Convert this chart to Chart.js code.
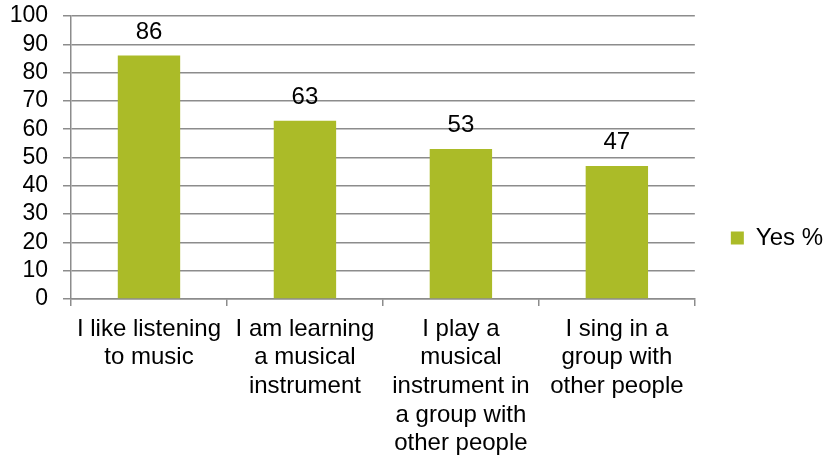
<!DOCTYPE html>
<html>
<head>
<meta charset="utf-8">
<script src="https://cdn.jsdelivr.net/npm/chart.js@4/dist/chart.umd.min.js"></script>
<style>
  html, body { margin: 0; padding: 0; background: #fff; }
  #wrap { width: 827px; height: 460px; }
</style>
</head>
<body>
<div id="wrap"><canvas id="chart" width="827" height="460"></canvas></div>
<script>
const categories = [
    ["I like listening", "to music"],
    ["I am learning", "a musical", "instrument"],
    ["I play a", "musical", "instrument in", "a group with", "other people"],
    ["I sing in a", "group with", "other people"],
];
const seriesName = "Yes %";
const yesValues = [86, 63, 53, 47];
const yTicks = [0, 10, 20, 30, 40, 50, 60, 70, 80, 90, 100];

const barColor = "#abbb28";
const gridColor = "#8c8c8c";
const fontFamily = "'Liberation Sans', Arial, sans-serif";

// value labels above each bar
const valueLabels = {
    id: "valueLabels",
    afterDatasetsDraw(chart) {
        const ctx = chart.ctx;
        ctx.save();
        ctx.font = `24px ${fontFamily}`;
        ctx.fillStyle = "#000";
        ctx.textAlign = "center";
        ctx.textBaseline = "alphabetic";
        chart.getDatasetMeta(0).data.forEach((bar, i) => {
            ctx.fillText(chart.data.datasets[0].data[i], bar.x, bar.y - 17);
        });
        ctx.restore();
    },
};

new Chart(document.getElementById("chart"), {
    type: "bar",
    plugins: [valueLabels],
    data: {
        labels: categories,
        datasets: [{
            label: seriesName,
            data: yesValues,
            backgroundColor: barColor,
            barPercentage: 0.8,
            categoryPercentage: 0.5,
        }],
    },
    options: {
        responsive: false,
        animation: false,
        layout: { padding: { left: 10, top: 16, right: -6, bottom: 0 } },
        plugins: {
            tooltip: { enabled: false },
            legend: {
                position: "right",
                labels: {
                    boxWidth: 13,
                    boxHeight: 13,
                    padding: 36,
                    color: "#000",
                    font: { family: fontFamily, size: 24 },
                },
            },
        },
        scales: {
            x: {
                afterFit: (axis) => {
                    axis.height = 161;
                },
                grid: {
                    offset: true,
                    drawOnChartArea: false,
                    drawTicks: true,
                    tickLength: 7,
                    color: gridColor,
                    lineWidth: 1.5,
                },
                border: { color: gridColor, width: 1.5 },
                ticks: {
                    color: "#000",
                    maxRotation: 0,
                    autoSkip: false,
                    padding: 9,
                    font: { family: fontFamily, size: 24, lineHeight: 1.19 },
                },
            },
            y: {
                min: 0,
                max: 100,
                afterBuildTicks: (axis) => {
                    axis.ticks = yTicks.map((v) => ({ value: v }));
                },
                afterFit: (axis) => {
                    axis.width = 61;
                    axis.paddingTop = 0;
                    axis.paddingBottom = 0;
                },
                grid: {
                    color: gridColor,
                    lineWidth: 1.5,
                    tickLength: 8,
                },
                border: { color: gridColor, width: 1.5 },
                ticks: {
                    color: "#000",
                    autoSkip: false,
                    padding: 15,
                    font: { family: fontFamily, size: 23 },
                },
            },
        },
    },
});
</script>
</body>
</html>
